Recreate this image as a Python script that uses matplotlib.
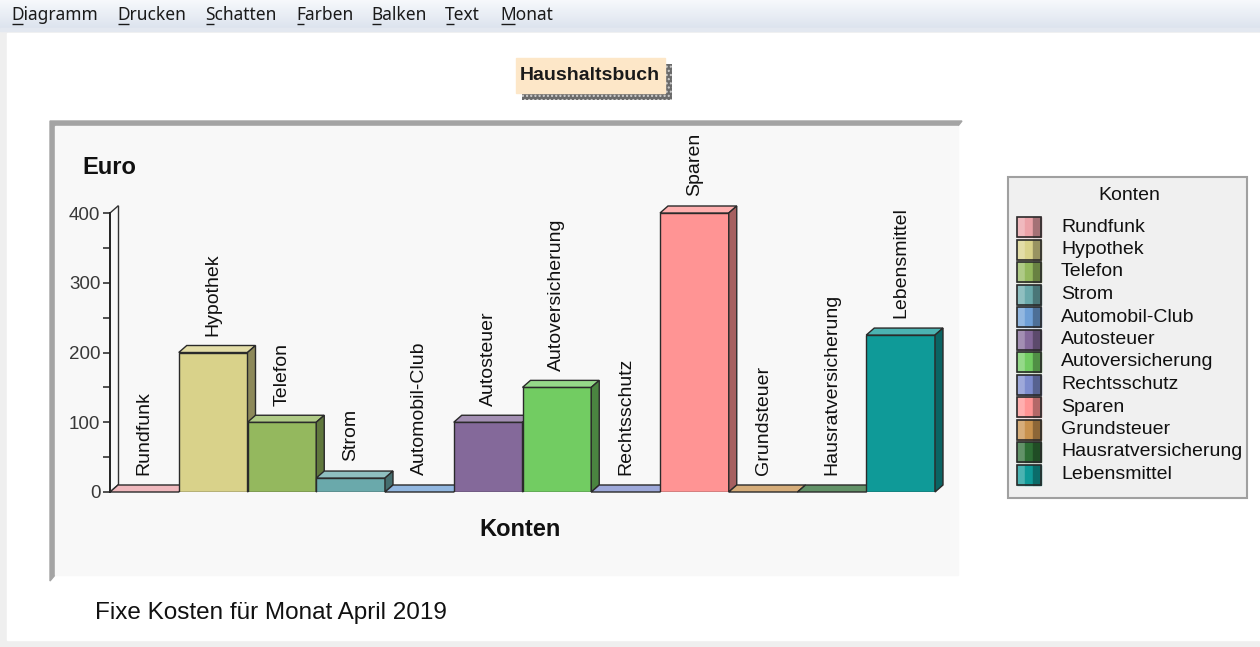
import matplotlib.pyplot as plt
from matplotlib.patches import Rectangle, Polygon
from matplotlib.colors import to_rgb

# data
konten = ["Rundfunk", "Hypothek", "Telefon", "Strom", "Automobil-Club",
          "Autosteuer", "Autoversicherung", "Rechtsschutz", "Sparen",
          "Grundsteuer", "Hausratversicherung", "Lebensmittel"]
euro = [0, 200, 100, 20, 0, 100, 150, 0, 400, 0, 0, 225]
farben = ["#eba2a8", "#d9d28a", "#94b85e", "#6aa9ab", "#6e9fd6", "#84699a",
          "#72cc62", "#7d8ccd", "#ff9494", "#c8924e", "#2e6e35", "#0f9a98"]
y_ticks = [0, 100, 200, 300, 400]
menu = ["Diagramm", "Drucken", "Schatten", "Farben", "Balken", "Text", "Monat"]
menu_x = [11, 117, 205, 296, 371, 445, 500]

W, H = 1260, 647
FONT = "Liberation Sans"


def mix(c, other, t):
    c = to_rgb(c)
    o = to_rgb(other)
    return tuple(c[k] * (1 - t) + o[k] * t for k in range(3))


fig = plt.figure(figsize=(W / 100, H / 100), dpi=100)
fig.patch.set_facecolor("white")

# background layer in pixel coordinates
bg = fig.add_axes([0, 0, 1, 1])
bg.set_xlim(0, W)
bg.set_ylim(H, 0)
bg.axis("off")

# window frame
bg.add_patch(Rectangle((0, 0), W, H, color="#efefef", zorder=0))
bg.add_patch(Rectangle((7, 33), W - 7, 607, color="white", zorder=1))

# menu bar with gradient
n = 28
for k in range(n):
    c = mix("#f7f9fc", "#dde4ee", k / (n - 1))
    bg.add_patch(Rectangle((0, k), W, 1.05, color=c, zorder=1))
bg.add_patch(Rectangle((0, 28), W, 3, color="#e3e8f0", zorder=1))

renderer = fig.canvas.get_renderer()
for name, x in zip(menu, menu_x):
    # measure the first letter for the underline, then drop the helper
    probe = bg.text(x, 15, name[0], fontsize=12.5, family="Noto Sans",
                    va="center", ha="left")
    w_first = probe.get_window_extent(renderer).width
    probe.remove()
    bg.text(x, 15, name, fontsize=12.5, family="Noto Sans", color="#1a1a1a",
            va="center", ha="left", zorder=3)
    bg.plot([x + 1, x + w_first - 1], [23.5, 23.5], color="#1a1a1a",
            lw=1, zorder=3, solid_capstyle="butt")

# title box with dotted shadow
bg.add_patch(Rectangle((522, 64), 150, 36, facecolor="#6a6a6a",
                       hatch="....", edgecolor="#d0d0d0", lw=0, zorder=2))
bg.add_patch(Rectangle((516, 58), 149, 35, color="#fde7c8", zorder=3))
bg.text(590, 76, "Haushaltsbuch", fontsize=14, family=FONT,
        fontweight="bold", color="#1a1a1a", ha="center", va="center", zorder=4)

# chart panel with grey border on top and left
bg.add_patch(Polygon([(50, 121), (962, 121), (958, 126), (55, 126),
                      (55, 575), (50, 581)], closed=True, color="#a4a4a4",
                     zorder=2))
bg.add_patch(Rectangle((55, 126), 903, 449, color="#f8f8f8", zorder=2))

bg.text(82, 168, "Euro", fontsize=17, family=FONT, fontweight="bold",
        color="#111111", ha="left", va="center", zorder=4)
bg.text(520, 530, "Konten", fontsize=17, family=FONT, fontweight="bold",
        color="#111111", ha="center", va="center", zorder=4)
bg.text(95, 613, "Fixe Kosten für Monat April 2019", fontsize=17.5,
        family=FONT, color="#111111", ha="left", va="center", zorder=4)

# legend
bg.add_patch(Rectangle((1008, 177), 239, 321, facecolor="#f0f0f0",
                       edgecolor="#a0a0a0", lw=1.5, zorder=2))
bg.text(1129, 196, "Konten", fontsize=14, family=FONT, color="#111111",
        ha="center", va="center", zorder=4)
for k, (name, c) in enumerate(zip(konten, farben)):
    yc = 227 + k * 22.5
    for j, t in enumerate([0.25, 0.0, -0.3]):
        col = mix(c, "white", t) if t >= 0 else mix(c, "black", -t)
        bg.add_patch(Rectangle((1017 + j * 8, yc - 10), 8, 20, color=col,
                               zorder=3))
    bg.add_patch(Rectangle((1017, yc - 10), 24, 20, fill=False,
                           edgecolor="#2a2a2a", lw=1.2, zorder=4))
    bg.text(1061, yc, name, fontsize=14, family=FONT, color="#111111",
            ha="left", va="center", zorder=4)

# bar chart axes
ax = fig.add_axes([110 / W, (H - 492) / H, 835 / W, 279 / H])
ax.patch.set_alpha(0)
ax.set_xlim(0, 835 / 68.75)
ax.set_ylim(0, 400)
dx = 8 / 68.75
dy = 7 / 0.6975

xs = list(range(len(konten)))
bars = ax.bar(xs, euro, width=1, align="edge", color=farben,
              edgecolor="#2a2a2a", linewidth=1)
for i, (b, h, c) in enumerate(zip(bars, euro, farben)):
    z = 10 + 3 * i
    b.set_zorder(z)
    top = Polygon([(i, h), (i + dx, h + dy), (i + 1 + dx, h + dy), (i + 1, h)],
                  closed=True, facecolor=mix(c, "white", 0.25),
                  edgecolor="#2a2a2a", lw=1, zorder=z + 1, clip_on=False)
    side = Polygon([(i + 1, 0), (i + 1 + dx, dy), (i + 1 + dx, h + dy),
                    (i + 1, h)], closed=True, facecolor=mix(c, "black", 0.35),
                   edgecolor="#2a2a2a", lw=1, zorder=z + 2, clip_on=False)
    ax.add_patch(top)
    if h > 0:
        ax.add_patch(side)
    ax.annotate(konten[i], (i + 0.5, h + dy), xytext=(0, 7),
                textcoords="offset points", rotation=90, ha="center",
                va="bottom", fontsize=14, family=FONT, color="#111111",
                annotation_clip=False)

# 3d wall edge of the value axis
ax.plot([dx, dx], [dy, 400 + dy], color="#333333", lw=1, clip_on=False)
ax.plot([0, dx], [400, 400 + dy], color="#333333", lw=1, clip_on=False)
ax.plot([0, dx], [0, dy], color="#333333", lw=1, clip_on=False)

for s in ["top", "right", "bottom"]:
    ax.spines[s].set_visible(False)
ax.spines["left"].set_color("#222222")
ax.spines["left"].set_linewidth(1.4)
ax.set_xticks([])
ax.set_yticks(y_ticks)
ax.set_yticks([50, 150, 250, 350], minor=True)
ax.tick_params(axis="y", which="both", direction="out", length=5, width=1.2,
               color="#333333", pad=2)
ax.tick_params(axis="y", which="major", labelsize=13.5, labelcolor="#383838")
for lab in ax.get_yticklabels():
    lab.set_family(FONT)

fig.savefig("out.png", dpi=100)
